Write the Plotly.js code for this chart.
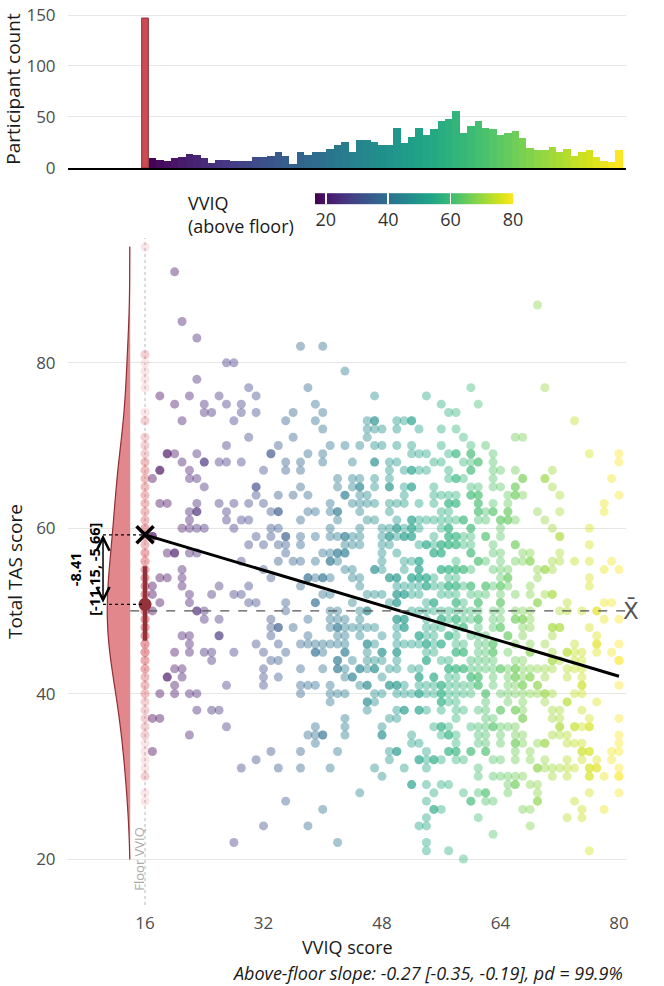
<!DOCTYPE html>
<html lang="en">
<head>
    <meta charset="UTF-8">
    <title>VVIQ vs TAS</title>
    <script src="https://cdn.plot.ly/plotly-3.0.1.min.js"></script>
    <style>
        body { margin: 0; background: white; }
    </style>
</head>

<body>

<div id="plot"></div>

<script>
    // histogram: participants per VVIQ score (floor = 16 shown separately)
    let floorScore = 16
    let floorCount = 147
    let aboveVviq = [17, 18, 19, 20, 21, 22, 23, 24, 25, 26, 27, 28, 29, 30, 31, 32,
        33, 34, 35, 36, 37, 38, 39, 40, 41, 42, 43, 44, 45, 46, 47, 48,
        49, 50, 51, 52, 53, 54, 55, 56, 57, 58, 59, 60, 61, 62, 63, 64,
        65, 66, 67, 68, 69, 70, 71, 72, 73, 74, 75, 76, 77, 78, 79, 80]
    let histCounts = [10, 8, 7, 10, 11, 14, 13, 10, 5, 8, 8, 7, 7, 7, 11, 11,
        12, 16, 12, 4, 16, 13, 16, 16, 19, 23, 25, 16, 27, 27, 25, 23,
        23, 39, 24, 30, 39, 32, 38, 46, 48, 56, 34, 41, 46, 39, 38, 32,
        34, 36, 29, 20, 18, 18, 21, 16, 19, 12, 16, 18, 11, 7, 6, 18]

    // TAS scores of participants at the floor, as level + how many
    let floorTasLevels = [94, 81, 80, 79, 78, 77, 74, 73, 71, 70, 69, 68, 67, 66, 65, 64, 63, 62, 61, 60,
        59, 58, 57, 56, 55, 54, 53, 52, 51, 50, 49, 48, 47, 46, 45, 44, 43, 42, 41, 40,
        39, 38, 37, 36, 35, 34, 33, 32, 31, 30, 28, 27]
    let floorTasCounts = [1, 2, 1, 1, 1, 1, 1, 2, 2, 2, 2, 3, 3, 3, 3, 3, 3, 3, 3, 4,
        3, 3, 4, 4, 4, 5, 5, 5, 5, 5, 5, 5, 5, 5, 5, 4, 4, 3, 3, 3,
        2, 2, 2, 2, 2, 1, 1, 1, 1, 2, 1, 1]

    // TAS scores above the floor, one list per VVIQ score in aboveVviq
    let tasByVviq = [
        [66, 59, 59, 53, 52, 50, 37, 33],
        [76, 67, 67, 63, 54, 51, 40, 37],
        [69, 69, 63, 57, 54, 42, 42],
        [91, 75, 69, 57, 57, 45, 43, 41, 40],
        [85, 73, 68, 60, 55, 54, 53, 47, 43, 42],
        [76, 67, 66, 62, 61, 60, 57, 52, 51, 47, 46, 45, 40, 35],
        [83, 78, 69, 66, 63, 62, 62, 60, 57, 50, 50, 40, 38],
        [75, 74, 68, 68, 65, 60, 50, 49, 45],
        [74, 52, 45, 44, 38],
        [76, 68, 63, 53, 49, 47, 47, 38],
        [80, 75, 70, 68, 62, 61, 41, 36],
        [80, 73, 63, 60, 52, 45, 22],
        [75, 74, 68, 61, 56, 52, 31],
        [77, 71, 63, 61, 58, 53, 51],
        [76, 74, 65, 65, 64, 59, 51, 46, 32],
        [67, 63, 58, 55, 45, 43, 42, 41, 24],
        [69, 69, 62, 60, 59, 54, 49, 48, 47, 44, 33],
        [70, 64, 62, 62, 60, 58, 56, 48, 48, 46, 44, 42, 31],
        [73, 68, 67, 59, 59, 58, 57, 51, 50, 45, 27],
        [74, 71, 64, 56, 48],
        [82, 68, 67, 65, 61, 59, 58, 56, 53, 46, 43, 41, 40, 33, 31],
        [77, 69, 64, 62, 54, 54, 49, 47, 46, 41, 35, 24],
        [75, 73, 62, 59, 56, 54, 51, 51, 46, 45, 45, 41, 36, 35, 34],
        [82, 74, 72, 69, 68, 57, 54, 54, 52, 46, 45, 43, 35, 35, 26],
        [70, 63, 62, 60, 59, 57, 56, 56, 54, 52, 50, 49, 48, 46, 41, 40, 39, 31],
        [66, 65, 62, 62, 61, 59, 57, 57, 56, 50, 49, 48, 48, 47, 46, 44, 44, 43, 43, 40, 33, 22],
        [79, 70, 64, 64, 59, 59, 58, 57, 57, 55, 49, 48, 47, 46, 45, 45, 43, 42, 40, 37, 36, 35],
        [68, 66, 65, 63, 59, 58, 55, 54, 51, 48, 44, 42, 42],
        [70, 66, 65, 65, 64, 63, 62, 60, 59, 58, 54, 53, 50, 49, 48, 47, 43, 43, 41, 28],
        [73, 72, 71, 64, 63, 61, 52, 50, 50, 48, 46, 46, 45, 44, 43, 41, 41, 39, 39, 38],
        [76, 73, 73, 72, 70, 68, 68, 66, 65, 63, 61, 55, 55, 52, 48, 46, 44, 43, 43, 40, 39, 31],
        [72, 70, 60, 59, 58, 57, 56, 55, 52, 47, 45, 45, 44, 42, 40, 36, 35, 35, 30],
        [68, 67, 66, 65, 65, 63, 62, 60, 59, 59, 58, 54, 54, 51, 43, 41, 41, 37, 33, 32],
        [73, 72, 70, 68, 63, 61, 60, 60, 59, 57, 54, 54, 53, 52, 52, 51, 51, 49, 49, 48, 47, 46, 45, 45, 44, 43, 41, 41, 40, 38, 37, 33, 33],
        [73, 67, 65, 64, 63, 60, 59, 59, 56, 55, 53, 52, 52, 49, 49, 48, 48, 46, 41, 40, 38, 38, 31],
        [73, 73, 70, 69, 67, 67, 65, 65, 61, 61, 60, 60, 59, 59, 56, 54, 54, 53, 52, 50, 46, 43, 40, 35, 34, 29, 29],
        [72, 69, 67, 63, 61, 60, 58, 56, 56, 55, 55, 54, 54, 53, 52, 50, 47, 47, 46, 43, 42, 42, 41, 40, 40, 38, 38, 34, 32, 32, 24],
        [76, 69, 67, 61, 58, 58, 54, 54, 53, 53, 51, 50, 49, 48, 47, 46, 46, 45, 44, 44, 41, 40, 38, 33, 32, 31, 29, 27, 25, 24, 22, 21],
        [68, 65, 64, 63, 61, 59, 58, 57, 57, 54, 53, 51, 51, 50, 48, 47, 46, 45, 42, 42, 41, 40, 36, 32, 32, 28, 26, 26],
        [75, 72, 70, 68, 64, 62, 61, 60, 58, 58, 57, 57, 55, 55, 53, 52, 50, 49, 49, 48, 46, 46, 44, 41, 41, 40, 40, 39, 39, 38, 36, 36, 35, 32, 29, 26],
        [74, 69, 67, 66, 64, 63, 63, 62, 61, 60, 60, 59, 59, 58, 58, 55, 55, 54, 53, 53, 52, 50, 49, 47, 47, 44, 43, 43, 42, 41, 40, 39, 36, 35, 35, 33, 33, 29, 21],
        [74, 72, 69, 69, 66, 66, 64, 63, 63, 61, 59, 59, 58, 58, 56, 55, 55, 54, 53, 53, 52, 51, 51, 50, 49, 49, 48, 47, 46, 45, 45, 43, 43, 42, 41, 40, 39, 38, 37, 35, 34, 33, 33, 32],
        [71, 68, 66, 61, 61, 59, 58, 55, 55, 53, 51, 50, 49, 48, 48, 46, 45, 45, 43, 43, 41, 40, 38, 32, 28, 20],
        [77, 70, 69, 69, 68, 67, 67, 65, 64, 64, 60, 60, 59, 58, 57, 57, 55, 53, 53, 52, 50, 49, 47, 44, 43, 42, 42, 41, 40, 36, 33, 33, 27, 27],
        [75, 68, 68, 65, 64, 64, 63, 63, 62, 62, 61, 56, 56, 52, 51, 51, 50, 49, 49, 48, 47, 46, 45, 44, 43, 42, 42, 41, 41, 38, 36, 35, 34, 31, 30, 28, 25],
        [70, 62, 61, 59, 59, 56, 53, 53, 52, 47, 46, 45, 44, 43, 40, 40, 39, 38, 37, 36, 35, 34, 33, 33, 28, 28, 27],
        [69, 68, 67, 66, 65, 63, 62, 62, 58, 57, 55, 53, 50, 49, 48, 46, 46, 45, 45, 44, 43, 42, 41, 37, 36, 36, 32, 30, 27, 23],
        [67, 65, 61, 61, 60, 59, 57, 56, 55, 54, 53, 53, 52, 51, 51, 50, 49, 48, 48, 43, 43, 40, 38, 38, 36, 35, 34, 32, 30],
        [64, 63, 62, 62, 61, 61, 55, 54, 54, 53, 47, 47, 45, 43, 42, 41, 40, 39, 36, 30, 29, 28],
        [71, 67, 65, 65, 64, 64, 61, 58, 58, 56, 52, 50, 49, 49, 46, 44, 43, 43, 42, 42, 41, 40, 38, 38, 36, 35, 34, 34, 33, 32, 30, 29, 29],
        [71, 66, 66, 64, 57, 56, 50, 49, 49, 48, 47, 44, 43, 42, 41, 41, 40, 39, 38, 37, 37, 35, 34, 30, 26],
        [57, 56, 56, 53, 52, 50, 49, 48, 46, 45, 45, 43, 42, 42, 40, 33, 32, 29, 26, 24],
        [87, 62, 55, 54, 51, 51, 43, 41, 41, 40, 34, 31, 31, 29, 28, 27, 27],
        [77, 66, 66, 61, 55, 55, 52, 46, 43, 42, 40, 40, 39, 34, 34, 32, 31],
        [67, 65, 60, 56, 55, 52, 52, 48, 48, 47, 45, 44, 44, 43, 40, 38, 37, 35, 31, 30],
        [64, 62, 59, 59, 57, 56, 50, 48, 48, 44, 38, 37, 36, 36, 35, 31],
        [51, 50, 45, 45, 43, 42, 39, 39, 35, 34, 32, 31, 30, 25],
        [73, 56, 46, 45, 44, 43, 40, 36, 36, 34, 31, 27],
        [50, 45, 44, 43, 42, 41, 41, 40, 38, 36, 34, 33, 33, 32, 26, 25],
        [69, 60, 58, 56, 54, 53, 48, 37, 36, 36, 33, 33, 31, 31, 30, 30, 28, 21],
        [50, 50, 47, 46, 46, 45, 39, 32, 31, 31],
        [63, 62, 55, 51, 49, 30, 26],
        [66, 56, 51, 45, 33, 32],
        [69, 68, 64, 55, 49, 46, 44, 44, 41, 37, 35, 34, 33, 31, 30, 30, 28]
    ]

    // model estimates
    let slopeLineX = [16, 80]
    let slopeLineY = [59.2, 42.1]
    let floorEst = 50.8
    let floorCiLow = 46.4
    let floorCiHigh = 55.4
    let overallMean = 50.0
    let diffText = "-8.41<br>[-11.15, -5.66]"
    let captionText = "Above-floor slope: -0.27 [-0.35, -0.19], pd = 99.9%"

    let floorTas = []
    floorTasLevels.forEach((lvl, i) => {
        for (let k = 0; k < floorTasCounts[i]; k++) floorTas.push(lvl)
    })
    let floorX = floorTas.map(() => floorScore)

    let aboveX = []
    let aboveY = []
    tasByVviq.forEach((col, i) => {
        col.forEach(v => {
            aboveX.push(aboveVviq[i])
            aboveY.push(v)
        })
    })

    let cmin = 16.5
    let cmax = 80
    let xRange = [5.6, 80.95]
    let arrowX = 10.33

    let data = [
        {
            type: "violin",
            x0: 14,
            y: floorTas,
            side: "negative",
            width: 6.2,
            spanmode: "manual",
            span: [20, 94],
            points: false,
            box: {visible: false},
            meanline: {visible: false},
            fillcolor: "#e2878c",
            line: {color: "#8e2f36", width: 1.2},
            xaxis: "x", yaxis: "y",
            hoverinfo: "skip"
        },
        {
            type: "scatter",
            mode: "markers",
            x: floorX,
            y: floorTas,
            marker: {size: 9, color: "#dd5a61", opacity: 0.15},
            xaxis: "x", yaxis: "y"
        },
        {
            type: "scatter",
            mode: "markers",
            x: aboveX,
            y: aboveY,
            marker: {
                size: 9,
                color: aboveX,
                colorscale: "Viridis",
                cmin: cmin,
                cmax: cmax,
                opacity: 0.42,
                line: {width: 0}
            },
            xaxis: "x", yaxis: "y"
        },
        {
            type: "scatter",
            mode: "lines",
            x: slopeLineX,
            y: slopeLineY,
            line: {color: "black", width: 3},
            xaxis: "x", yaxis: "y"
        },
        {
            type: "scatter",
            mode: "markers",
            x: [slopeLineX[0]],
            y: [slopeLineY[0]],
            marker: {symbol: "x-thin", size: 17, line: {color: "black", width: 3.5}},
            xaxis: "x", yaxis: "y"
        },
        {
            type: "scatter",
            mode: "markers",
            x: [floorScore],
            y: [floorEst],
            marker: {size: 13, color: "#93323a"},
            error_y: {
                type: "data",
                symmetric: false,
                array: [floorCiHigh - floorEst],
                arrayminus: [floorEst - floorCiLow],
                thickness: 4.5,
                width: 0,
                color: "#93323a"
            },
            xaxis: "x", yaxis: "y"
        },
        {
            type: "bar",
            x: [floorScore],
            y: [floorCount],
            width: 0.9,
            marker: {color: "#cd4b53", line: {color: "#8e2f36", width: 1}},
            xaxis: "x2", yaxis: "y2"
        },
        {
            type: "bar",
            x: aboveVviq,
            y: histCounts,
            width: 1,
            marker: {
                color: aboveVviq,
                colorscale: "Viridis",
                cmin: cmin,
                cmax: cmax,
                line: {width: 0},
                showscale: true,
                colorbar: {
                    orientation: "h",
                    x: 0.62, xanchor: "center",
                    y: 0.768, yanchor: "middle",
                    len: 0.355, lenmode: "fraction",
                    thickness: 11, thicknessmode: "pixels",
                    outlinewidth: 0,
                    tickvals: [20, 40, 60, 80],
                    ticks: "inside",
                    ticklen: 11,
                    tickwidth: 1.5,
                    tickcolor: "white",
                    tickfont: {size: 18, color: "#333333"},
                    xpad: 0, ypad: 0
                }
            },
            xaxis: "x2", yaxis: "y2"
        }
    ]

    let gray = "#4d4d4d"
    let dark = "#1a1a1a"
    let layout = {
        width: 664,
        height: 986,
        margin: {l: 68, r: 38, t: 10, b: 81},
        paper_bgcolor: "white",
        plot_bgcolor: "white",
        font: {family: "Open Sans, sans-serif", color: gray},
        showlegend: false,
        bargap: 0,
        xaxis: {
            domain: [0, 1],
            anchor: "y",
            range: xRange,
            tickvals: [16, 32, 48, 64, 80],
            showgrid: false,
            zeroline: false,
            ticks: "outside",
            ticklen: 3,
            tickcolor: "rgba(0,0,0,0)",
            tickfont: {size: 17, color: gray}
        },
        yaxis: {
            domain: [0, 0.7453],
            anchor: "x",
            range: [14.44, 95.1],
            tickvals: [20, 40, 60, 80],
            gridcolor: "#e6e6e6",
            zeroline: false,
            ticks: "outside",
            ticklen: 8,
            tickcolor: "rgba(0,0,0,0)",
            tickfont: {size: 17, color: gray},
            title: {text: "Total TAS score", font: {size: 19, color: dark}, standoff: 8}
        },
        xaxis2: {
            domain: [0, 1],
            anchor: "y2",
            range: xRange,
            showticklabels: false,
            showgrid: false,
            zeroline: false,
            showline: true,
            linecolor: "black",
            linewidth: 2,
            ticks: ""
        },
        yaxis2: {
            domain: [0.8235, 1],
            anchor: "x2",
            range: [0, 154.9],
            tickvals: [0, 50, 100, 150],
            gridcolor: "#e6e6e6",
            zeroline: false,
            ticks: "outside",
            ticklen: 8,
            tickcolor: "rgba(0,0,0,0)",
            tickfont: {size: 17, color: gray},
            title: {text: "Participant count", font: {size: 19, color: dark}, standoff: 2}
        },
        shapes: [
            {
                type: "line", layer: "below",
                xref: "x", yref: "y domain",
                x0: floorScore, x1: floorScore, y0: 0, y1: 1,
                line: {color: "#c4c4c4", width: 1.2, dash: "dot"}
            },
            {
                type: "line",
                xref: "x", yref: "y",
                x0: 14, x1: xRange[1], y0: overallMean, y1: overallMean,
                line: {color: "#555555", width: 1.2, dash: "dash"}
            },
            {
                type: "line",
                xref: "x", yref: "y",
                x0: arrowX, x1: floorScore, y0: slopeLineY[0], y1: slopeLineY[0],
                line: {color: "black", width: 1.3, dash: "dot"}
            },
            {
                type: "line",
                xref: "x", yref: "y",
                x0: arrowX, x1: floorScore, y0: floorEst, y1: floorEst,
                line: {color: "black", width: 1.3, dash: "dot"}
            }
        ],
        annotations: [
            {
                xref: "x", yref: "y",
                x: arrowX, y: slopeLineY[0],
                axref: "x", ayref: "y",
                ax: arrowX, ay: floorEst,
                text: "",
                showarrow: true,
                arrowside: "end+start",
                arrowhead: 5,
                startarrowhead: 5,
                arrowsize: 1.7,
                startarrowsize: 1.7,
                arrowwidth: 1.5,
                arrowcolor: "black",
                standoff: 0, startstandoff: 0
            },
            {
                xref: "x", yref: "y",
                x: 7.8, y: (slopeLineY[0] + floorEst) / 2,
                text: "<b>" + diffText + "</b>",
                textangle: -90,
                showarrow: false,
                font: {size: 14.5, color: "black"}
            },
            {
                xref: "x", yref: "y",
                x: 15.15, y: 20,
                text: "Floor VVIQ",
                textangle: -90,
                showarrow: false,
                font: {size: 13, color: "#aaaaaa"}
            },
            {
                xref: "paper", yref: "y",
                x: 1.027, y: overallMean,
                text: "X\u0304",
                showarrow: false,
                font: {family: "DejaVu Sans", size: 23, color: "#555555"}
            },
            {
                xref: "paper", yref: "paper",
                x: 0.2115, xanchor: "left",
                y: 0.771, yanchor: "middle",
                align: "left",
                text: "VVIQ<br>(above floor)",
                showarrow: false,
                font: {size: 18, color: dark}
            },
            {
                xref: "paper", yref: "paper",
                x: 0.5, xanchor: "center",
                y: -0.0469, yanchor: "middle",
                text: "VVIQ score",
                showarrow: false,
                font: {size: 18, color: dark}
            },
            {
                xref: "paper", yref: "paper",
                x: 0.998, xanchor: "right",
                y: -0.0762, yanchor: "middle",
                text: "<i>" + captionText + "</i>",
                showarrow: false,
                font: {size: 18, color: dark}
            }
        ]
    }

    Plotly.newPlot("plot", data, layout, {displayModeBar: false, staticPlot: true})
</script>
</body>
</html>
